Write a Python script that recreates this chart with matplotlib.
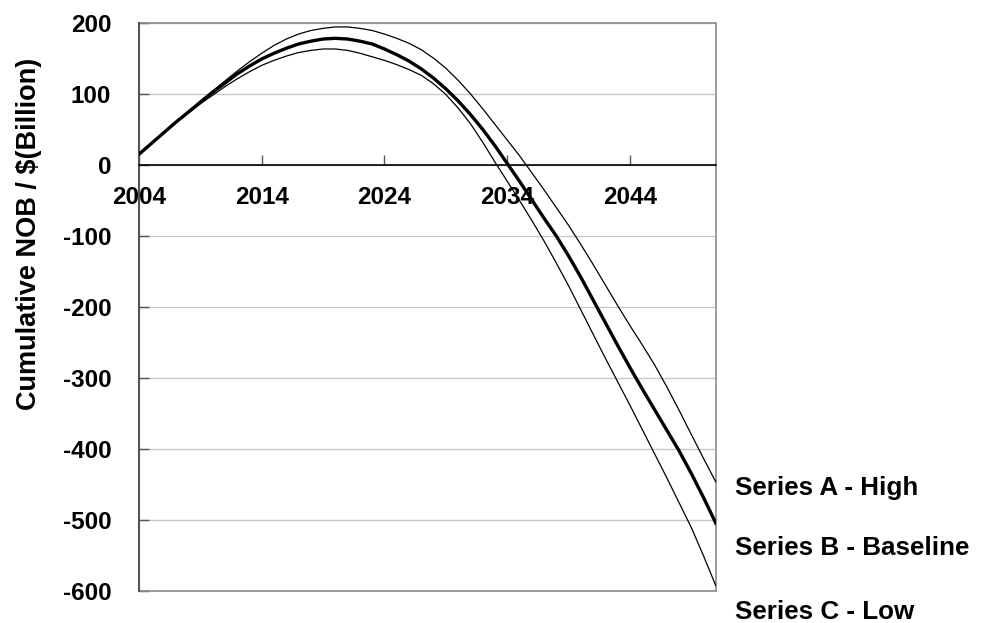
import numpy as np
import matplotlib
matplotlib.use("Agg")
import matplotlib.pyplot as plt
from matplotlib.patches import Rectangle

plt.rcParams['font.family'] = ['Liberation Sans', 'DejaVu Sans']
plt.rcParams['font.weight'] = 'bold'
plt.rcParams['axes.unicode_minus'] = False

years = list(range(2004, 2052))

# cumulative NOB, $ billion
high = [15, 30, 45, 60, 75, 90, 104, 118, 132, 145, 157, 168, 177, 184, 189, 192,
        194, 194, 192, 189, 184, 178, 171, 162, 150, 136, 119, 100, 79, 57, 35, 13,
        -11, -35, -60, -85, -112, -140, -169, -198, -226, -253, -281, -312, -345, -379, -413, -446]
baseline = [15, 30, 45, 60, 74, 88, 102, 115, 128, 139, 149, 157, 164, 170, 174, 177,
            178, 177, 174, 170, 163, 155, 146, 135, 122, 107, 90, 71, 50, 27, 2, -23,
            -49, -75, -100, -128, -158, -190, -222, -254, -285, -315, -344, -373, -402, -434, -468, -504]
low = [15, 30, 45, 59, 73, 86, 98, 110, 121, 131, 140, 147, 153, 158, 161, 163,
       163, 161, 157, 152, 147, 141, 134, 126, 114, 99, 80, 58, 32, 4, -23, -50,
       -78, -107, -138, -170, -204, -238, -272, -305, -338, -372, -406, -440, -475, -510, -550, -592]

series_labels = ["Series A - High", "Series B - Baseline", "Series C - Low"]
xticks = [2004, 2014, 2024, 2034, 2044]
yticks = list(range(-600, 201, 100))

fig = plt.figure(figsize=(9.86, 6.23), dpi=100)
ax = fig.add_axes([0.141, 0.0506, 0.585, 0.913])

ax.plot(years, high, color='black', lw=0.9, zorder=3)
ax.plot(years, baseline, color='black', lw=2.4, zorder=4)
ax.plot(years, low, color='black', lw=0.9, zorder=3)

ax.set_xlim(2004, 2051)
ax.set_ylim(-600, 200)

ax.set_yticks(yticks)
ax.set_xticks(xticks)
ax.yaxis.grid(True, color='#c8c8c8', lw=1.0)
ax.set_axisbelow(True)

# plot area border
ax.add_patch(Rectangle((0, 0), 1, 1, transform=ax.transAxes, fill=False,
                       edgecolor='#8a8a8a', lw=1.2, zorder=1, clip_on=False))
ax.spines['top'].set_visible(False)
ax.spines['right'].set_visible(False)
ax.spines['left'].set_color('#555555')
ax.spines['left'].set_linewidth(1.5)
ax.spines['bottom'].set_position(('data', 0))
ax.spines['bottom'].set_color('black')
ax.spines['bottom'].set_linewidth(1.2)

ax.tick_params(axis='y', direction='in', length=7, width=1, color='#555555',
               labelsize=17.5, pad=20)
ax.tick_params(axis='x', direction='in', length=7, width=1, color='#555555',
               labelsize=17.5, pad=15)

fig.text(29.5 / 986, 1 - 234 / 623, "Cumulative NOB / $(Billion)", fontsize=19.5,
         fontweight='bold', rotation=90, ha='center', va='center')

label_y = [488, 548, 612]
for txt, py in zip(series_labels, label_y):
    fig.text(735 / 986, 1 - py / 623, txt, fontsize=18.7, fontweight='bold',
             ha='left', va='center')

fig.savefig("out.png", dpi=100)
